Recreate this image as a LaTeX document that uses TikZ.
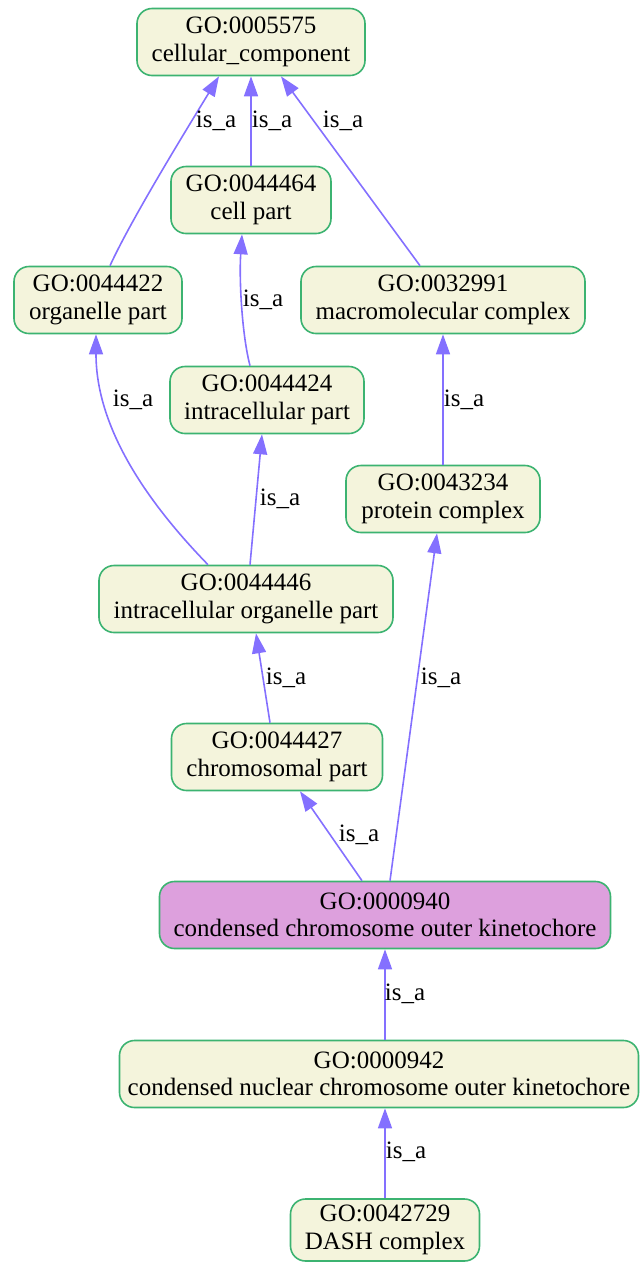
\documentclass[tikz,border=0pt]{standalone}
\usepackage{fontspec}
\setmainfont{Liberation Serif}
\usetikzlibrary{arrows.meta}
\definecolor{edgec}{HTML}{8470FF}
\definecolor{borderc}{HTML}{3CB371}
\definecolor{fillc}{HTML}{F4F4DC}
\definecolor{hilite}{HTML}{DDA0DD}
\tikzset{
  term/.style={draw=borderc, line width=1.6pt, fill=fillc, rounded corners=15pt,
    align=center, minimum height=67pt, inner sep=0pt,
    font=\fontsize{25}{27.5}\selectfont},
  focus/.style={term, fill=hilite},
  isa/.style={draw=edgec, line width=1.6pt, -{Triangle[length=20pt,width=14pt]}},
  lbl/.style={font=\fontsize{25}{27.5}\selectfont, inner sep=0pt}
}
\begin{document}
\begin{tikzpicture}[x=1pt,y=-1pt]
\useasboundingbox (0,0) rectangle (640,1262);
\node[term, minimum width=228pt] (n5575) at (251,42) {GO:0005575\\cellular\_component};
\node[term, minimum width=160pt] (n44464) at (251,200) {GO:0044464\\cell part};
\node[term, minimum width=168pt] (n44422) at (98,300) {GO:0044422\\organelle part};
\node[term, minimum width=284pt] (n32991) at (443,300) {GO:0032991\\macromolecular complex};
\node[term, minimum width=194pt] (n44424) at (267,400) {GO:0044424\\intracellular part};
\node[term, minimum width=194pt] (n43234) at (443,499) {GO:0043234\\protein complex};
\node[term, minimum width=294pt] (n44446) at (246,599) {GO:0044446\\intracellular organelle part};
\node[term, minimum width=211pt] (n44427) at (277,757) {GO:0044427\\chromosomal part};
\node[focus, minimum width=451pt] (n940) at (385,915) {GO:0000940\\condensed chromosome outer kinetochore};
\node[term, minimum width=519pt] (n942) at (379,1074) {GO:0000942\\condensed nuclear chromosome outer kinetochore};
\node[term, minimum width=189pt, minimum height=62pt] (n2729) at (385,1230) {GO:0042729\\DASH complex};

\draw[isa] (n44464.north) -- (n5575.south);
\draw[isa] ([xshift=12pt]n44422.north) .. controls (130,222) and (180,140) .. ([xshift=-32pt]n5575.south);
\draw[isa] ([xshift=-23pt]n32991.north) -- ([xshift=30pt]n5575.south);
\draw[isa] ([xshift=-17pt]n44424.north) .. controls (242,335) and (239,280) .. ([xshift=-9pt]n44464.south);
\draw[isa] ([xshift=-38pt]n44446.north) .. controls (150,505) and (96,430) .. ([xshift=-2pt]n44422.south);
\draw[isa] ([xshift=4pt]n44446.north) -- ([xshift=-5pt]n44424.south);
\draw[isa] (n43234.north) -- (n32991.south);
\draw[isa] ([xshift=-7pt]n44427.north) -- ([xshift=10pt]n44446.south);
\draw[isa] ([xshift=-23pt]n940.north) -- ([xshift=23pt]n44427.south);
\draw[isa] ([xshift=5pt]n940.north) -- ([xshift=-6pt]n43234.south);
\draw[isa] ([xshift=6pt]n942.north) -- (n940.south);
\draw[isa] (n2729.north) -- ([xshift=6pt]n942.south);

\node[lbl] (l1) at (216,121) {is\_a};
\node[lbl] (l2) at (272,121) {is\_a};
\node[lbl] (l3) at (343,121) {is\_a};
\node[lbl] (l4) at (263,300) {is\_a};
\node[lbl] (l5) at (133,400) {is\_a};
\node[lbl] (l6) at (464,400) {is\_a};
\node[lbl] (l7) at (280,499) {is\_a};
\node[lbl] (l8) at (286,678) {is\_a};
\node[lbl] (l9) at (441,678) {is\_a};
\node[lbl] (l10) at (359,835) {is\_a};
\node[lbl] (l11) at (405,994) {is\_a};
\node[lbl] (l12) at (406,1152) {is\_a};
\end{tikzpicture}
\end{document}
